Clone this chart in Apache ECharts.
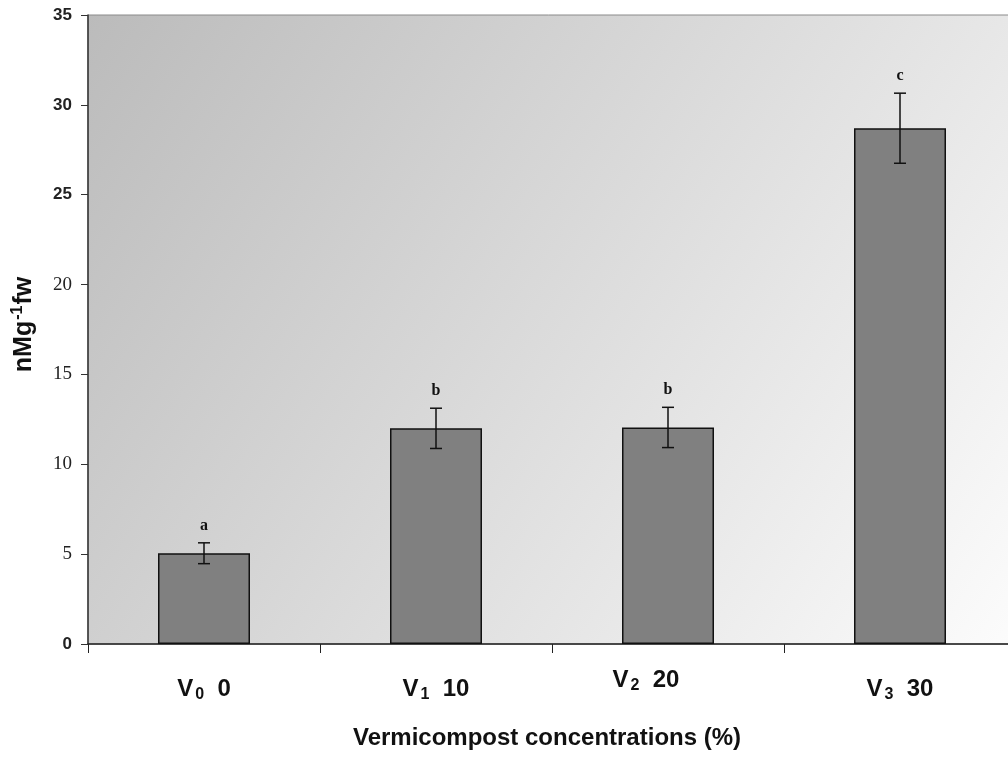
<!DOCTYPE html>
<html>
<head>
<meta charset="utf-8">
<style>
  html, body { margin: 0; padding: 0; background: #ffffff; }
  #chart { width: 1008px; height: 757px; }
</style>
<script src="https://cdn.jsdelivr.net/npm/echarts@6/dist/echarts.min.js"></script>
</head>
<body>
<div id="chart"></div>
<script>
// Treatments: vermicompost level code and concentration (%)
var treatments = ['0', '1', '2', '3'];
var doses = ['0', '10', '20', '30'];
// Mean values (nMg-1 fw) and standard errors
var means = [5.05, 12.0, 12.05, 28.7];
var errors = [0.58, 1.12, 1.12, 1.95];
// Significance letters
var letters = ['a', 'b', 'b', 'c'];
// Y axis ticks
var yMin = 0, yMax = 35, yStep = 5;
var sansTicks = [0, 25, 30, 35];

var categories = treatments.map(function (t, i) { return t + '|' + doses[i]; });

var chart = echarts.init(document.getElementById('chart'), null, { renderer: 'canvas' });

var labelFont = 'Liberation Sans, Arial, sans-serif';
var serifFont = 'Liberation Serif, Times New Roman, serif';

var option = {
  animation: false,
  grid: {
    left: 88, top: 15, width: 928, bottom: 113,
    outerBoundsMode: 'none',
    containLabel: false,
    show: true,
    borderWidth: 1,
    borderColor: '#8a8a8a',
    backgroundColor: {
      type: 'linear', x: 0, y: 0, x2: 1, y2: 1,
      colorStops: [
        { offset: 0, color: '#bbbbbb' },
        { offset: 1, color: '#fcfcfc' }
      ]
    }
  },
  xAxis: {
    type: 'category',
    data: categories,
    boundaryGap: true,
    axisLine: { lineStyle: { color: '#222', width: 1.5 } },
    axisTick: { show: true, length: 9, interval: 0, lineStyle: { color: '#222', width: 1 } },
    axisLabel: {
      interval: 0,
      margin: 23,
      formatter: function (value, idx) {
        var p = value.split('|');
        if (idx === 2) {
          return '{v2|V}{s2|' + p[0] + '}{n2|  ' + p[1] + '}{gap2|}';
        }
        return '{v|V}{s|' + p[0] + '}{n|  ' + p[1] + '}';
      },
      rich: {
        v: { fontSize: 24, fontWeight: 'bold', fontFamily: labelFont, color: '#111', lineHeight: 44 },
        s: { fontSize: 16, fontWeight: 'bold', fontFamily: labelFont, color: '#111', lineHeight: 16, padding: [12, 0, 0, 2] },
        n: { fontSize: 24, fontWeight: 'bold', fontFamily: labelFont, color: '#111', lineHeight: 44 },
        v2: { fontSize: 24, fontWeight: 'bold', fontFamily: labelFont, color: '#111', lineHeight: 26 },
        s2: { fontSize: 16, fontWeight: 'bold', fontFamily: labelFont, color: '#111', lineHeight: 16, padding: [12, 0, 0, 2] },
        n2: { fontSize: 24, fontWeight: 'bold', fontFamily: labelFont, color: '#111', lineHeight: 26 },
        gap2: { width: 44, lineHeight: 26 }
      }
    },
    name: 'Vermicompost concentrations (%)',
    nameLocation: 'middle',
    nameGap: 82,
    nameTextStyle: { fontSize: 24, fontWeight: 'bold', fontFamily: labelFont, color: '#111', padding: [0, 10, 0, 0] }
  },
  yAxis: {
    type: 'value',
    min: yMin, max: yMax, interval: yStep,
    splitLine: { show: false },
    axisLine: { show: true, lineStyle: { color: '#333', width: 1.5 } },
    axisTick: { show: true, length: 7, lineStyle: { color: '#333' } },
    axisLabel: {
      margin: 16,
      formatter: function (v) {
        return sansTicks.indexOf(v) >= 0 ? '{s|' + v + '}' : '{r|' + v + '}';
      },
      rich: {
        s: { fontSize: 17, fontWeight: 'bold', fontFamily: labelFont, color: '#222' },
        r: { fontSize: 19, fontFamily: serifFont, color: '#222' }
      }
    },
    name: '{b|nMg}{sup|-1}{b|fw}',
    nameLocation: 'middle',
    nameGap: 50,
    nameTextStyle: {
      padding: [0, 0, 0, 10],
      rich: {
        b: { fontSize: 25, fontWeight: 'bold', fontFamily: labelFont, color: '#111', lineHeight: 28 },
        sup: { fontSize: 16, fontWeight: 'bold', fontFamily: labelFont, color: '#111', lineHeight: 16, padding: [0, 1, 12, 1] }
      }
    }
  },
  series: [
    {
      type: 'bar',
      data: means,
      barWidth: 92,
      itemStyle: { color: '#808080', borderColor: '#111', borderWidth: 1.5 },
      z: 2
    },
    {
      type: 'custom',
      z: 3,
      data: means.map(function (m, i) { return [i, m, errors[i]]; }),
      renderItem: function (params, api) {
        var i = api.value(0), m = api.value(1), e = api.value(2);
        var top = api.coord([i, m + e]);
        var bot = api.coord([i, m - e]);
        var cap = 6;
        return {
          type: 'group',
          children: [
            { type: 'line', shape: { x1: top[0], y1: top[1], x2: bot[0], y2: bot[1] }, style: { stroke: '#111', lineWidth: 1.5 } },
            { type: 'line', shape: { x1: top[0] - cap, y1: top[1], x2: top[0] + cap, y2: top[1] }, style: { stroke: '#111', lineWidth: 1.5 } },
            { type: 'line', shape: { x1: bot[0] - cap, y1: bot[1], x2: bot[0] + cap, y2: bot[1] }, style: { stroke: '#111', lineWidth: 1.5 } },
            {
              type: 'text',
              style: {
                x: top[0], y: top[1] - 9,
                text: letters[params.dataIndex],
                align: 'center', verticalAlign: 'bottom',
                font: 'bold 16px ' + serifFont,
                fill: '#111'
              }
            }
          ]
        };
      }
    }
  ]
};

chart.setOption(option);
</script>
</body>
</html>
